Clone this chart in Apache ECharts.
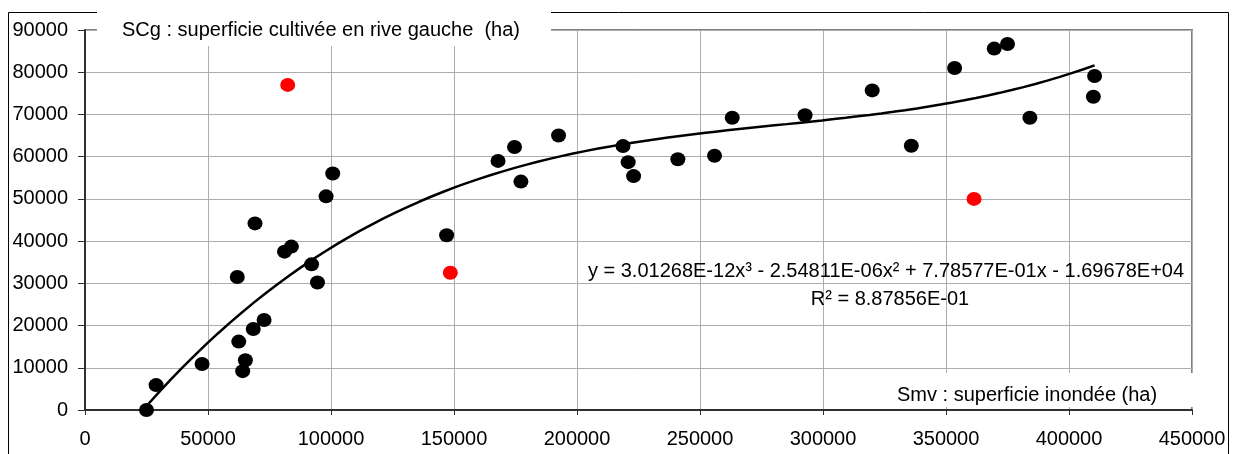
<!DOCTYPE html>
<html>
<head>
<meta charset="utf-8">
<style>
  html, body { margin: 0; padding: 0; background: #fff; }
  #chart { width: 1234px; height: 454px; }
</style>
<script src="https://cdn.jsdelivr.net/npm/echarts@6.0.0/dist/echarts.min.js"></script>
</head>
<body>
<div id="chart"></div>
<script>
// Smv (flooded area, ha) vs SCg (left-bank cultivated area, ha)
const smvBlack = [25000, 28900, 47600, 61900, 62500, 64100, 65200, 68400, 69100, 72800,
                  81100, 83900, 92100, 94500, 98000, 100700, 147000, 167900, 174600, 177200,
                  192500, 218700, 220800, 223000, 241000, 255900, 263100, 292700, 320000, 335900,
                  353500, 369600, 375000, 384100, 409900, 410400];
const scgBlack = [0, 5900, 10900, 31500, 16200, 9200, 11800, 19200, 44200, 21300,
                  37500, 38700, 34500, 30200, 50600, 56000, 41400, 59000, 62300, 54100,
                  65000, 62500, 58700, 55400, 59400, 60200, 69200, 69800, 75700, 62600,
                  81000, 85600, 86700, 69200, 74200, 79100];

// Years set apart (shown in red)
const smvRed = [82400, 148500, 361400];
const scgRed = [77000, 32500, 50000];

// Cubic trend: a3*x^3 + a2*x^2 + a1*x + a0
const trendCoefficients = [3.01268E-12, -2.54811E-06, 7.78577E-01, -1.69678E+04];
const trendLabel = 'y = 3.01268E-12x³ - 2.54811E-06x² + 7.78577E-01x - 1.69678E+04';
const r2Label = 'R² = 8.87856E-01';

const xTitle = 'Smv : superficie inondée (ha)';
const yTitle = 'SCg : superficie cultivée en rive gauche  (ha)';

const FONT = '"Liberation Sans", Arial, sans-serif';

function zip(xs, ys) { return xs.map((x, i) => [x, ys[i]]); }

function trendAt(x) {
  const [a3, a2, a1, a0] = trendCoefficients;
  return ((a3 * x + a2) * x + a1) * x + a0;
}

// trend curve spans the observed Smv range
const allX = smvBlack.concat(smvRed);
const xMin = Math.min(...allX), xMax = Math.max(...allX);
const trendPts = [];
const steps = 80;
for (let i = 0; i <= steps; i++) {
  const x = xMin + (xMax - xMin) * i / steps;
  trendPts.push([x, trendAt(x)]);
}

const plain = v => String(v);

const chart = echarts.init(document.getElementById('chart'), null, { renderer: 'canvas' });

chart.setOption({
  animation: false,
  backgroundColor: '#fff',
  grid: {
    left: 85, top: 30, right: 42, bottom: 44,
    show: true, borderColor: '#808080', borderWidth: 2, backgroundColor: 'transparent'
  },
  xAxis: {
    type: 'value', min: 0, max: 450000, interval: 50000,
    axisLine: { show: true, onZero: false, lineStyle: { color: '#303030', width: 2 } },
    axisTick: { show: true, length: 5, lineStyle: { color: '#303030', width: 1 } },
    axisLabel: { color: '#000', fontFamily: FONT, fontSize: 20, margin: 19, formatter: plain },
    splitLine: { show: true, lineStyle: { color: '#adadad', width: 1 } }
  },
  yAxis: {
    type: 'value', min: 0, max: 90000, interval: 10000,
    axisLine: { show: true, onZero: false, lineStyle: { color: '#303030', width: 2 } },
    axisTick: { show: true, length: 7, lineStyle: { color: '#303030', width: 1 } },
    axisLabel: { color: '#000', fontFamily: FONT, fontSize: 20, margin: 17, formatter: plain },
    splitLine: { show: true, lineStyle: { color: '#adadad', width: 1 } }
  },
  series: [
    {
      type: 'line', data: trendPts, showSymbol: false, smooth: false,
      lineStyle: { color: '#000', width: 2.5 }, z: 3, silent: true
    },
    {
      type: 'scatter', data: zip(smvBlack, scgBlack), symbol: 'circle', symbolSize: [15, 14],
      itemStyle: { color: '#000', opacity: 1 }, z: 4
    },
    {
      type: 'scatter', data: zip(smvRed, scgRed), symbol: 'circle', symbolSize: [15, 14],
      itemStyle: { color: '#ff0000', opacity: 1 }, z: 4
    }
  ],
  graphic: [
    // chart frame
    { type: 'rect', z: 90, silent: true,
      shape: { x: 8.5, y: 12.5, width: 1220, height: 460 },
      style: { fill: 'none', stroke: '#000', lineWidth: 1 } },
    // y-axis title box
    { type: 'rect', z: 100, silent: true,
      shape: { x: 97, y: 0, width: 454, height: 46 },
      style: { fill: '#fff' } },
    { type: 'text', z: 101, silent: true, x: 122, y: 30,
      style: { text: yTitle, fill: '#000', font: '20px ' + FONT, verticalAlign: 'middle', align: 'left' } },
    // x-axis title box
    { type: 'rect', z: 100, silent: true,
      shape: { x: 885, y: 373, width: 320, height: 34 },
      style: { fill: '#fff' } },
    { type: 'text', z: 101, silent: true, x: 897, y: 395,
      style: { text: xTitle, fill: '#000', font: '20px ' + FONT, verticalAlign: 'middle', align: 'left' } },
    // trend equation
    { type: 'text', z: 101, silent: true, x: 886, y: 271,
      style: { text: trendLabel, fill: '#000', font: '20px ' + FONT, verticalAlign: 'middle', align: 'center' } },
    { type: 'text', z: 101, silent: true, x: 890, y: 299,
      style: { text: r2Label, fill: '#000', font: '20px ' + FONT, verticalAlign: 'middle', align: 'center' } }
  ]
});
</script>
</body>
</html>
